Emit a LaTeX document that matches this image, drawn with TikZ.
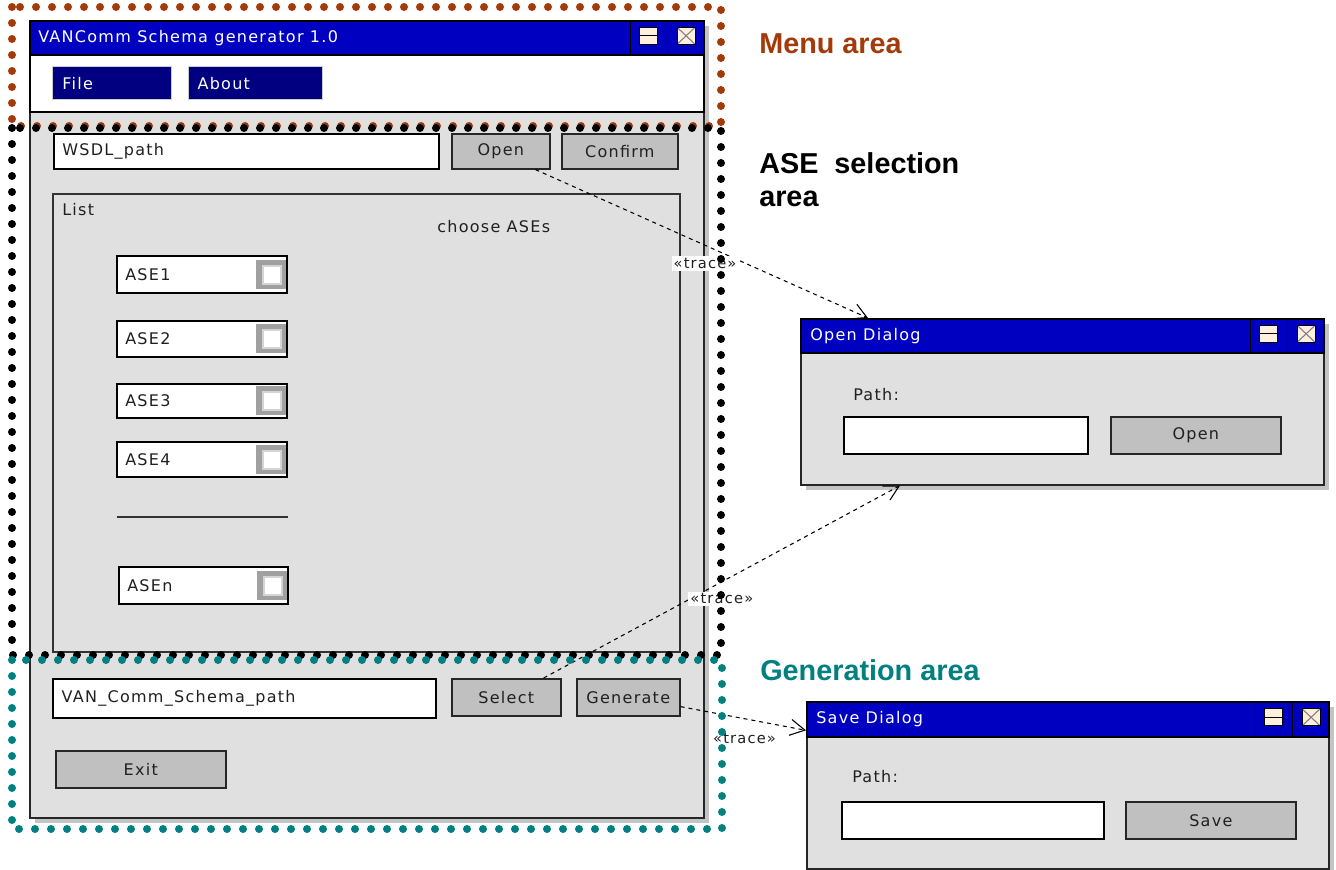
\documentclass[tikz,border=0pt]{standalone}
\usepackage{fontspec}
\usetikzlibrary{positioning,calc,shadows,arrows.meta}
\newfontfamily\uifont{DejaVu Sans}[LetterSpace=8]
\newfontfamily\areafont{Liberation Sans}
\definecolor{titleblue}{RGB}{0,0,192}
\definecolor{menunavy}{RGB}{0,0,128}
\definecolor{bodygray}{RGB}{224,224,224}
\definecolor{btngray}{RGB}{192,192,192}
\definecolor{shadowgray}{RGB}{196,196,196}
\definecolor{chkgray}{RGB}{160,160,160}
\definecolor{chklight}{RGB}{212,212,212}
\definecolor{iconcream}{RGB}{255,240,222}
\definecolor{uiink}{RGB}{32,32,32}
\definecolor{menubrown}{RGB}{163,58,10}
\definecolor{areateal}{RGB}{0,128,128}
\newcommand{\uiBox}[7]{\node[#2, anchor=north west, minimum width={(#5-#3)*0.75pt}, minimum height={(#6-#4)*0.75pt}] (#1) at (#3,#4) {#7};}
\newcommand{\winIcons}[1]{%
\draw[line width=1pt] ($(#1.north east)+(-37,0)$) -- ($(#1.south east)+(-37,0)$) ($(#1.north east)+(-74,0)$) -- ($(#1.south east)+(-74,0)$);
\node[tbicon, path picture={\draw[line width=1pt] (path picture bounding box.west) -- (path picture bounding box.east);}] (#1restore) at ($(#1.east)+(-56,-2)$) {};
\node[tbicon, path picture={\draw[gray, line width=0.8pt] (path picture bounding box.south west) -- (path picture bounding box.north east) (path picture bounding box.north west) -- (path picture bounding box.south east);}] (#1close) at ($(#1.east)+(-18.5,-2)$) {};}
\newcommand{\aseCheck}[1]{%
\node[chkframe, anchor=east] (#1chk) at ($(#1.east)+(-1,0)$) {};
\node[chkbox] (#1chkin) at ($(#1chk.center)+(0.5,0.5)$) {};}
\tikzset{
  ui/.style={font=\uifont\fontsize{12}{14}\selectfont, text=uiink, inner sep=0pt},
  titletext/.style={ui, text=white},
  win/.style={draw=black!85, fill=bodygray, line width=1.2pt, inner sep=0pt, drop shadow={shadow xshift=3.75pt, shadow yshift=-3.75pt, fill=shadowgray, opacity=1}},
  titlebar/.style={draw=black, fill=titleblue, line width=1.2pt, inner sep=0pt},
  field/.style={draw=black, fill=white, line width=1.2pt, inner sep=0pt},
  btn/.style={ui, draw=black!85, fill=btngray, line width=1.2pt},
  menubtn/.style={draw=black!20, fill=menunavy, line width=1pt, inner sep=0pt},
  listframe/.style={draw=black!80, line width=1.2pt, inner sep=0pt},
  tbicon/.style={draw=black, fill=iconcream, line width=0.9pt, minimum width=13.5pt, minimum height=12.75pt, inner sep=0pt},
  chkframe/.style={fill=chkgray, minimum width=22.5pt, minimum height=21.75pt, inner sep=0pt},
  chkbox/.style={fill=white, draw=chklight, line width=1.5pt, minimum size=13.5pt, inner sep=0pt},
  trace/.style={draw=black, line width=0.8pt, dash pattern=on 3pt off 3pt, -{Straight Barb[length=11pt, width=12pt, line width=0.8pt]}},
  tracelbl/.style={fill=white, inner sep=1.5pt, font=\uifont\fontsize{11}{13}\selectfont, text=uiink},
  areaframe/.style={line width=6pt, line cap=round, dash pattern=on 0pt off 12pt},
  arealabel/.style={inner sep=0pt, anchor=base west, align=left, font=\areafont\bfseries\fontsize{21.6}{24.75}\selectfont}
}
\begin{document}
\begin{tikzpicture}[x=0.75pt,y=-0.75pt]
\useasboundingbox (0,0) rectangle (1336,870);
\uiBox{mainwin}{win}{29}{20}{703}{817}{}
\uiBox{maintitle}{titlebar}{29}{20}{703}{54}{}
\node[titletext, right=6.75pt of maintitle.west] (maintitletext) {VANComm Schema generator 1.0};
\winIcons{maintitle}
\uiBox{menubar}{field}{29}{54}{703}{111}{}
\uiBox{filemenu}{menubtn}{52}{66}{171}{99}{}
\node[titletext, right=7.5pt of filemenu.west] (filetext) {File};
\uiBox{aboutmenu}{menubtn}{188}{66}{322}{99}{}
\node[titletext, right=7pt of aboutmenu.west] (abouttext) {About};
\uiBox{wsdl}{field}{53}{133}{438}{168}{}
\node[ui, right=6.75pt of wsdl.west] (wsdltext) {WSDL\_path};
\uiBox{openbtn}{btn}{451}{133}{549}{168}{Open}
\uiBox{confirmbtn}{btn}{561}{133}{677}{168}{Confirm}
\uiBox{listbox}{listframe}{52}{193}{679}{651}{}
\node[ui, anchor=west] (listtext) at ($(listbox.north west)+(10,17)$) {List};
\node[ui, anchor=west] (choosetext) at (437,227) {choose ASEs};
\uiBox{aseone}{field}{116}{255}{286}{292}{}
\node[ui, right=6.75pt of aseone.west] (aseonetext) {ASE1};
\aseCheck{aseone}
\uiBox{asetwo}{field}{116}{320}{286}{356}{}
\node[ui, right=6.75pt of asetwo.west] (asetwotext) {ASE2};
\aseCheck{asetwo}
\uiBox{asethree}{field}{116}{383}{286}{417}{}
\node[ui, right=6.75pt of asethree.west] (asethreetext) {ASE3};
\aseCheck{asethree}
\uiBox{asefour}{field}{116}{441}{286}{476}{}
\node[ui, right=6.75pt of asefour.west] (asefourtext) {ASE4};
\aseCheck{asefour}
\draw[line width=1.2pt, black!80] (117,517) -- (288,517);
\uiBox{asen}{field}{118}{566}{287}{603}{}
\node[ui, right=6.75pt of asen.west] (asentext) {ASEn};
\aseCheck{asen}
\uiBox{vanpath}{field}{52}{678}{435}{717}{}
\node[ui, right=7pt of vanpath.west] (vanpathtext) {VAN\_Comm\_Schema\_path};
\uiBox{selectbtn}{btn}{451}{678}{560}{715}{Select}
\uiBox{genbtn}{btn}{576}{678}{679}{715}{Generate}
\uiBox{exitbtn}{btn}{55}{750}{225}{787}{Exit}
\uiBox{opendlg}{win}{800}{318}{1323}{484}{}
\uiBox{opendlgtitle}{titlebar}{800}{318}{1323}{352}{}
\node[titletext, right=7.5pt of opendlgtitle.west] (opendlgtext) {Open Dialog};
\winIcons{opendlgtitle}
\node[ui, anchor=west] (openpathlbl) at (853,395) {Path:};
\uiBox{openpath}{field}{843}{416}{1087}{453}{}
\uiBox{opendlgbtn}{btn}{1110}{416}{1280}{453}{Open}
\uiBox{savedlg}{win}{806}{701}{1328}{868}{}
\uiBox{savedlgtitle}{titlebar}{806}{701}{1328}{736}{}
\node[titletext, right=7.5pt of savedlgtitle.west] (savedlgtext) {Save Dialog};
\winIcons{savedlgtitle}
\node[ui, anchor=west] (savepathlbl) at (852,777) {Path:};
\uiBox{savepath}{field}{841}{801}{1103}{838}{}
\uiBox{savedlgbtn}{btn}{1125}{801}{1295}{838}{Save}
\draw[trace] ([xshift=26pt]openbtn.south) -- node[tracelbl, pos=0.51, yshift=-13.5pt] (traceone) {«trace»} ([xshift=51pt]opendlg.north west);
\draw[trace] ([xshift=28pt]selectbtn.north) -- node[tracelbl, pos=0.5, yshift=-12.75pt] (tracetwo) {«trace»} ([xshift=75pt]opendlg.south west);
\draw[trace] ([yshift=-7pt]genbtn.east) -- node[tracelbl, pos=0.51, yshift=-15pt] (tracethree) {«trace»} ([yshift=-22pt]savedlg.north west);
\draw[areaframe, menubrown] (12,7) rectangle (721,126);
\draw[areaframe, black] (12,128) rectangle (721,655);
\draw[areaframe, areateal] (12,660) rectangle (722,829);
\node[arealabel, text=menubrown] (menulbl) at (759,54) {Menu area};
\node[arealabel, text=black] (aselbl) at (759,207) {ASE\ \ selection\\area};
\node[arealabel, text=areateal] (genlbl) at (760,680) {Generation area};
\end{tikzpicture}
\end{document}
